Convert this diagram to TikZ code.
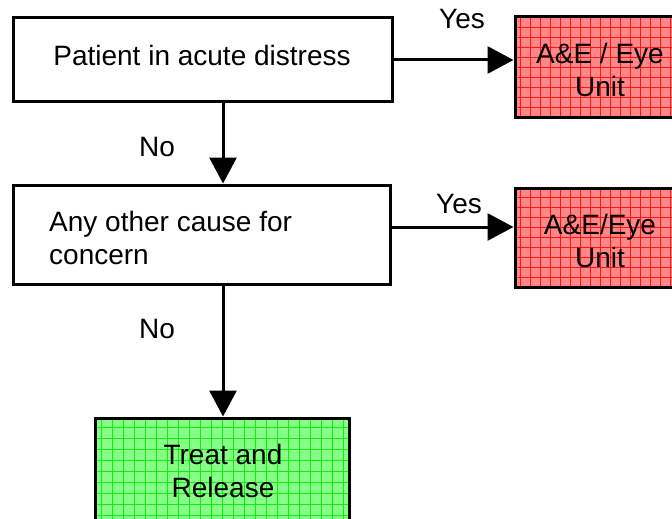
\documentclass[tikz,border=0pt]{standalone}
\usepackage{fontspec}
\setmainfont{Liberation Sans}
\usetikzlibrary{arrows.meta}
\definecolor{pinkfill}{RGB}{255,135,135}
\definecolor{pinkline}{RGB}{255,20,20}
\definecolor{greenfill}{RGB}{135,255,135}
\definecolor{greenline}{RGB}{20,235,20}
\tikzset{
  box/.style={draw=black, line width=3pt, fill=white, inner sep=0pt},
  redbox/.style={box, fill=pinkfill, path picture={\draw[pinkline, line width=0.9pt, step=10pt] (path picture bounding box.south west) grid (path picture bounding box.north east);}},
  greenbox/.style={box, fill=greenfill, path picture={\draw[greenline, line width=0.9pt, step=11pt] (path picture bounding box.south west) grid (path picture bounding box.north east);}},
  txt/.style={font=\fontsize{28}{33}\selectfont, inner sep=0pt, align=center},
  lbl/.style={font=\fontsize{28}{33}\selectfont, inner sep=0pt},
  conn/.style={line width=3pt, -{Triangle[width=27pt,length=26pt]}}
}
\begin{document}
\begin{tikzpicture}[x=1pt,y=-1pt]
\useasboundingbox (0,0) rectangle (672,519);
\clip (0,0) rectangle (672,519);
\node[box, minimum width=379pt, minimum height=83pt] (b1) at (202.5,59.5) {};
\node[txt] (t1) at (202,55) {Patient in acute distress};
\node[redbox, minimum width=170pt, minimum height=100pt] (r1) at (600,67) {};
\node[txt] (tr1) at (600,70) {A\&E / Eye\\Unit};
\node[box, minimum width=377pt, minimum height=99pt] (b2) at (201.5,234.5) {};
\node[txt, align=left, anchor=west] (t2) at (49,238) {Any other cause for\\concern};
\node[redbox, minimum width=170pt, minimum height=99pt] (r2) at (600,237.5) {};
\node[txt] (tr2) at (600,241) {A\&E/Eye\\Unit};
\node[greenbox, minimum width=254pt, minimum height=106pt] (g) at (222,471) {};
\node[txt] (tg) at (223,471) {Treat and\\Release};
\draw[conn] (b1.east |- 0,60) -- (r1.west |- 0,60);
\draw[conn] (b2.east |- 0,227) -- (r2.west |- 0,227);
\draw[conn] (b1.south -| 223,0) -- (b2.north -| 223,0);
\draw[conn] (b2.south -| 223,0) -- (g.north -| 223,0);
\node[lbl] (y1) at (462,19) {Yes};
\node[lbl] (y2) at (459,204) {Yes};
\node[lbl] (n1) at (157,147) {No};
\node[lbl] (n2) at (157,329) {No};
\end{tikzpicture}
\end{document}
